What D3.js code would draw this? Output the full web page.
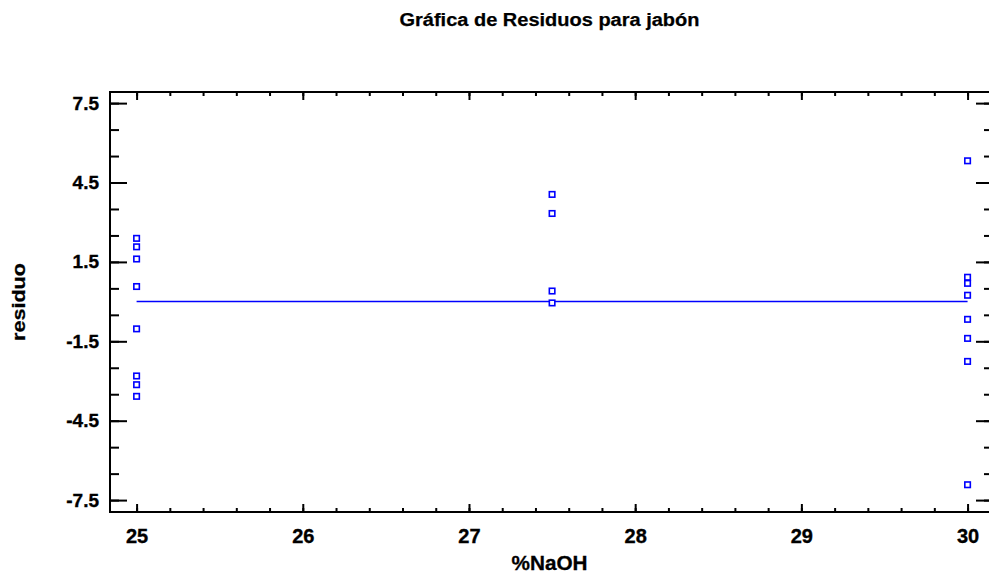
<!DOCTYPE html>
<html>
<head>
<meta charset="utf-8">
<script src="https://cdn.jsdelivr.net/npm/d3@7"></script>
<style>
  html, body { margin: 0; padding: 0; background: #fff; }
  svg { display: block; font-family: "Liberation Sans", Arial, sans-serif; font-weight: bold; }
</style>
</head>
<body>
<svg id="chart" width="989" height="575"></svg>
<script>
// Residuals by NaOH concentration
const naoh = [25, 25, 25, 25, 25, 25, 25, 25,
              27.5, 27.5, 27.5, 27.5,
              30, 30, 30, 30, 30, 30, 30, 30];
const residuo = [2.39, 2.07, 1.61, 0.57, -1.03, -2.81, -3.14, -3.58,
                 4.05, 3.33, 0.40, -0.05,
                 5.32, 0.92, 0.69, 0.24, -0.67, -1.39, -2.26, -6.92];

const xMajorTicks = [25, 26, 27, 28, 29, 30];
const yMajorTicks = [7.5, 4.5, 1.5, -1.5, -4.5, -7.5];
const zeroLine = [25, 30];

const title = "Gráfica de Residuos para jabón";
const xTitle = "%NaOH";
const yTitle = "residuo";

const svg = d3.select("#chart");
const frame = { left: 110, right: 993, top: 92, bottom: 512 };

const x = d3.scaleLinear().domain([24.84, 30.153]).range([frame.left, frame.right]);
const y = d3.scaleLinear().domain([-7.95, 7.92]).range([frame.bottom, frame.top]);

const xMinor = d3.range(0, 26).map(i => 25 + i * 0.2).filter(v => x(v) <= frame.right);
const yMinor = d3.range(0, 16).map(i => 7.5 - i);

// plain hyphen for negatives
const fmtY = v => v.toFixed(1);
const fmtX = v => String(v);

// frame
svg.append("rect")
  .attr("x", frame.left).attr("y", frame.top)
  .attr("width", frame.right - frame.left).attr("height", frame.bottom - frame.top)
  .attr("fill", "none").attr("stroke", "#000").attr("stroke-width", 2);

function styleAxis(g) {
  g.select(".domain").remove();
  g.selectAll(".tick line").attr("stroke", "#000").attr("stroke-width", 2);
}
function styleLabels(size) {
  return g => g.selectAll("text")
    .attr("font-size", size).attr("font-weight", "bold").attr("fill", "#000")
    .attr("stroke", "#000").attr("stroke-width", 0.35)
    .attr("font-family", "'Liberation Sans', Arial, sans-serif");
}

// x ticks (bottom and top, pointing inward)
svg.append("g").attr("transform", `translate(0,${frame.bottom})`)
  .call(d3.axisBottom(x).tickValues(xMinor).tickSize(-4).tickFormat(""))
  .call(styleAxis);
svg.append("g").attr("transform", `translate(0,${frame.bottom})`)
  .call(d3.axisBottom(x).tickValues(xMajorTicks).tickSize(-8).tickPadding(17).tickFormat(fmtX))
  .call(styleAxis)
  .call(styleLabels(20));
svg.append("g").attr("transform", `translate(0,${frame.top})`)
  .call(d3.axisTop(x).tickValues(xMinor).tickSize(-4).tickFormat(""))
  .call(styleAxis);
svg.append("g").attr("transform", `translate(0,${frame.top})`)
  .call(d3.axisTop(x).tickValues(xMajorTicks).tickSize(-8).tickFormat(""))
  .call(styleAxis);

// y ticks (left and right, pointing inward)
svg.append("g").attr("transform", `translate(${frame.left},0)`)
  .call(d3.axisLeft(y).tickValues(yMinor).tickSize(-9).tickFormat(""))
  .call(styleAxis);
svg.append("g").attr("transform", `translate(${frame.left},0)`)
  .call(d3.axisLeft(y).tickValues(yMajorTicks).tickSize(-17).tickPadding(11).tickFormat(fmtY))
  .call(styleAxis)
  .call(styleLabels(19));
svg.append("g").attr("transform", `translate(${frame.right},0)`)
  .call(d3.axisRight(y).tickValues(yMinor).tickSize(-9).tickFormat(""))
  .call(styleAxis);
svg.append("g").attr("transform", `translate(${frame.right},0)`)
  .call(d3.axisRight(y).tickValues(yMajorTicks).tickSize(-17).tickFormat(""))
  .call(styleAxis);

// zero reference line
svg.append("line")
  .attr("x1", x(zeroLine[0])).attr("x2", x(zeroLine[1]))
  .attr("y1", y(0)).attr("y2", y(0))
  .attr("stroke", "#0000ff").attr("stroke-width", 1.5);

// residual markers
const s = 5.5;
svg.append("g").selectAll("rect")
  .data(naoh.map((v, i) => [v, residuo[i]]))
  .join("rect")
  .attr("x", d => x(d[0]) - s / 2)
  .attr("y", d => y(d[1]) - s / 2)
  .attr("width", s).attr("height", s)
  .attr("fill", "#fff").attr("stroke", "#0000ff").attr("stroke-width", 1.6);

// titles
const cx = (frame.left + frame.right) / 2 - 2;
svg.append("text").attr("x", cx).attr("y", 26).attr("text-anchor", "middle")
  .attr("font-size", 18).attr("stroke", "#000").attr("stroke-width", 0.25)
  .attr("textLength", 300).attr("lengthAdjust", "spacingAndGlyphs").text(title);
svg.append("text").attr("x", cx).attr("y", 570).attr("text-anchor", "middle")
  .attr("font-size", 20).attr("stroke", "#000").attr("stroke-width", 0.3)
  .attr("textLength", 76).attr("lengthAdjust", "spacingAndGlyphs").text(xTitle);
svg.append("text").attr("transform", `translate(25,${(frame.top + frame.bottom) / 2}) rotate(-90)`)
  .attr("text-anchor", "middle").attr("font-size", 18).attr("stroke", "#000").attr("stroke-width", 0.25)
  .attr("textLength", 78).attr("lengthAdjust", "spacingAndGlyphs").text(yTitle);
</script>
</body>
</html>
